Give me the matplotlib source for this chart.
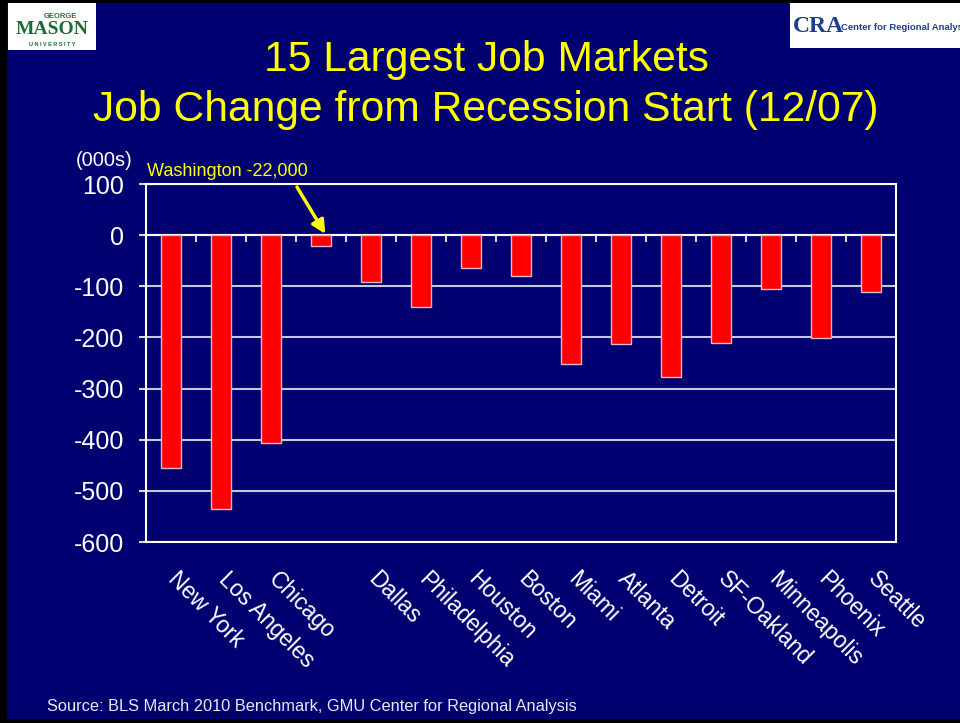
import matplotlib.pyplot as plt
from matplotlib.patches import Rectangle
import matplotlib.transforms as mtransforms

plt.rcParams['font.family'] = ['Liberation Sans', 'DejaVu Sans']

# job change since 12/07, thousands
cities = ['New York', 'Los Angeles', 'Chicago', 'Washington', 'Dallas', 'Philadelphia',
          'Houston', 'Boston', 'Miami', 'Atlanta', 'Detroit', 'SF-Oakland',
          'Minneapolis', 'Phoenix', 'Seattle']
tick_names = ['New York', 'Los Angeles', 'Chicago', '', 'Dallas', 'Philadelphia',
              'Houston', 'Boston', 'Miami', 'Atlanta', 'Detroit', 'SF-Oakland',
              'Minneapolis', 'Phoenix', 'Seattle']
change = [-455, -535, -406, -22, -92, -141, -64, -80, -252, -213, -277, -211, -106, -201, -111]
yticks = [100, 0, -100, -200, -300, -400, -500, -600]

navy = '#000070'
W, H = 960, 723

fig = plt.figure(figsize=(9.6, 7.23), dpi=100, facecolor='black')
# slide background
fig.patches.append(Rectangle((7 / W, 4 / H), 1, 1 - 7 / H, transform=fig.transFigure,
                             facecolor=navy, edgecolor='none', zorder=-2))

# logos (approximated)
fig.patches.append(Rectangle((8 / W, 1 - 50 / H), 88 / W, 47 / H, transform=fig.transFigure,
                             facecolor='white', edgecolor='none', zorder=-1))
fig.text(60 / W, 1 - 16 / H, 'GEORGE', color='#2e6b3a', fontsize=5.5, fontweight='bold',
         ha='center', va='center')
fig.text(52 / W, 1 - 30 / H, 'MASON', color='#1f6b35', fontsize=14, fontweight='bold',
         family='Liberation Serif', ha='center', va='center')
fig.text(52 / W, 1 - 44 / H, 'U N I V E R S I T Y', color='#1f6b35', fontsize=4,
         fontweight='bold', ha='center', va='center')
fig.patches.append(Rectangle((790 / W, 1 - 48 / H), 170 / W, 45 / H, transform=fig.transFigure,
                             facecolor='white', edgecolor='none', zorder=-1))
fig.text(793 / W, 1 - 26 / H, 'CRA', color='#1c3f8f', fontsize=17, fontweight='bold',
         family='Liberation Serif', ha='left', va='center')
fig.text(841 / W, 1 - 28 / H, 'Center for Regional Analys', color='#1c3f8f', fontsize=6.8,
         fontweight='bold', ha='left', va='center')

fig.text(486 / W, 1 - 60 / H, '15 Largest Job Markets', color='#ffff00', fontsize=30.7,
         ha='center', va='center')
fig.text(486 / W, 1 - 110 / H, 'Job Change from Recession Start (12/07)', color='#ffff00',
         fontsize=30.7, ha='center', va='center')

ax = fig.add_axes([146 / W, 1 - 542 / H, 750 / W, 358 / H])
ax.set_facecolor(navy)
x = list(range(len(cities)))
ax.bar(x, change, width=0.4, color='#ff0000', edgecolor='#e0b8c8', linewidth=1, zorder=3)

ax.set_xlim(-0.5, len(cities) - 0.5)
ax.set_ylim(-600, 100)
ax.set_yticks(yticks)
ax.set_yticklabels([str(v) for v in yticks])
ax.tick_params(axis='y', colors='#d8d8e8', labelcolor='white', labelsize=18, length=5,
               width=1.5, pad=11)
ax.yaxis.grid(True, color='#c8c8dc', linewidth=1.5, zorder=1)
ax.axhline(0, color='white', linewidth=1.5, zorder=2)
for s in ax.spines.values():
    s.set_color('white')
    s.set_linewidth(1.5)

# category separator ticks on the zero line
ax.vlines([i + 0.5 for i in x[:-1]], -13, 0, color='#d8d8e8', linewidth=1.5, zorder=2)

ax.set_xticks(x)
ax.set_xticklabels(tick_names, rotation=-45, ha='left', va='top', rotation_mode='anchor',
                   color='white', fontsize=16.5)
ax.tick_params(axis='x', length=0, pad=18.5)
shift = mtransforms.ScaledTranslation(9 / 100, 0, fig.dpi_scale_trans)
for lab in ax.get_xticklabels():
    lab.set_transform(lab.get_transform() + shift)

fig.text(104 / W, 1 - 160 / H, '(000s)', color='white', fontsize=14.5, ha='center', va='center')
fig.text(147 / W, 1 - 172 / H, 'Washington -22,000', color='#ffff00', fontsize=13,
         ha='left', va='center')
ax.annotate('', xy=(cities.index('Washington') + 0.1, 0), xytext=(297, H - 187),
            textcoords='figure pixels',
            arrowprops=dict(arrowstyle='-|>,head_length=0.8,head_width=0.4',
                            color='#ffff00', lw=2.5, shrinkA=0, shrinkB=1))

fig.text(47 / W, 1 - 706 / H, 'Source: BLS March 2010 Benchmark, GMU Center for Regional Analysis',
         color='#e8e8f0', fontsize=11.8, ha='left', va='center')

fig.savefig('out.png', dpi=100, facecolor=fig.get_facecolor())
